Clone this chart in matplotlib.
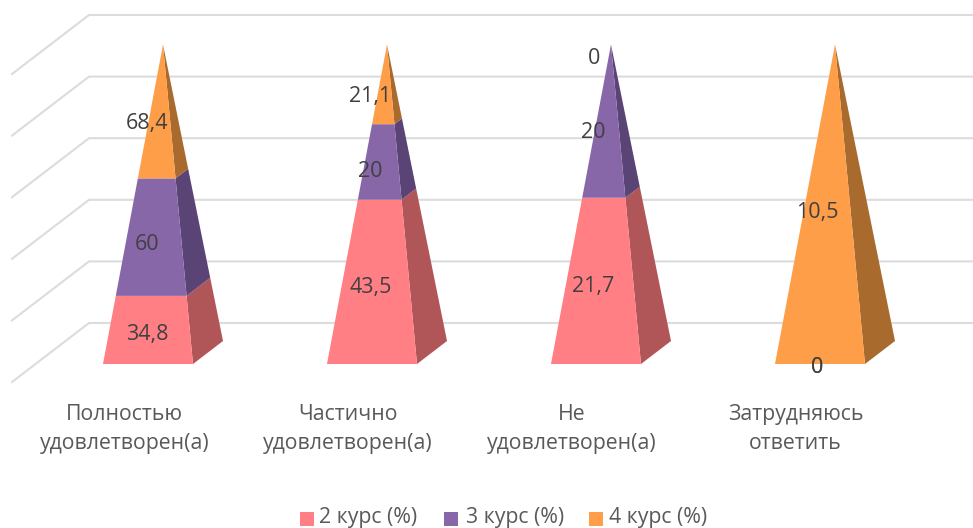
import matplotlib
matplotlib.use("Agg")
import matplotlib.pyplot as plt
from matplotlib.patches import Polygon, Rectangle

plt.rcParams['font.family'] = ['Open Sans', 'DejaVu Sans']

categories = [["Полностью", "удовлетворен(а)"], ["Частично", "удовлетворен(а)"], ["Не", "удовлетворен(а)"], ["Затрудняюсь", "ответить"]]
series_names = ["2 курс (%)", "3 курс (%)", "4 курс (%)"]
course2 = [34.8, 43.5, 21.7, 0]
course3 = [60, 20, 20, 0]
course4 = [68.4, 21.1, 0, 10.5]
series = [course2, course3, course4]
labels2 = ["34,8", "43,5", "21,7", "0"]
labels3 = ["60", "20", "20", "0"]
labels4 = ["68,4", "21,1", "0", "10,5"]
series_labels = [labels2, labels3, labels4]
front_colors = ["#FF7F85", "#8767A8", "#FF9E48"]
side_colors = ["#B05659", "#5A4375", "#A96A2E"]
grid_ticks = [0, 20, 40, 60, 80, 100]

W, H = 973, 528
fig = plt.figure(figsize=(W / 100, H / 100), dpi=100)
ax = fig.add_axes([0, 0, 1, 1])
ax.set_xlim(0, W)
ax.set_ylim(H, 0)
ax.axis("off")

def proj(u, pct, d):
    """Oblique projection: u along the floor, pct up the wall, d into the depth."""
    return 12 + 77 * d + u, 382 - 59 * d - 3.08 * pct

GRID = "#DCDCDC"
for t in grid_ticks:
    p0, p1, p2 = proj(0, t, 0), proj(0, t, 1), proj(884, t, 1)
    ax.plot([p0[0], p1[0], p2[0]], [p0[1], p1[1], p2[1]], color=GRID, lw=1.5, zorder=1,
            solid_joinstyle="miter")

STEP = 224
HALF = 45
def corner(cat, side, dz, frac):
    """Point on a pyramid edge; frac=0 base, frac=1 apex (100 %)."""
    cu = 112.5 + STEP * cat
    bx, by = proj(cu + side * HALF, 0, 0.5 + dz)
    ax_, ay_ = proj(cu, 100, 0.5)
    return bx + (ax_ - bx) * frac, by + (ay_ - by) * frac

for c in range(len(categories)):
    total = sum(s[c] for s in series)
    cum = 0.0
    for i, s in enumerate(series):
        f0 = cum / total
        cum += s[c]
        f1 = cum / total
        mid = (f0 + f1) / 2
        _, ly = corner(c, 0, -0.195, mid)
        ly = ly + 3 + 11 * mid
        lx = 147 + (STEP - 0.7) * c
        if f1 > f0:
            front = [corner(c, -1, -0.195, f0), corner(c, 1, -0.195, f0),
                     corner(c, 1, -0.195, f1), corner(c, -1, -0.195, f1)]
            sidep = [corner(c, 1, -0.195, f0), corner(c, 1, 0.195, f0),
                     corner(c, 1, 0.195, f1), corner(c, 1, -0.195, f1)]
            ax.add_patch(Polygon(sidep, closed=True, fc=side_colors[i], ec="none", zorder=3))
            ax.add_patch(Polygon(front, closed=True, fc=front_colors[i], ec="none", zorder=3))
        ax.text(lx, ly, series_labels[i][c], ha="center", va="center", fontsize=15.5,
                color="#404040", zorder=5)
    for k, line in enumerate(categories[c]):
        ax.text(124.5 + (STEP - 0.3) * c, 414.5 + 29 * k, line, ha="center", va="center", fontsize=15.3,
                color="#595959", zorder=5)

swatch_x = [300, 444, 589]
text_x = [319, 465.5, 609]
for x, tx, name, col in zip(swatch_x, text_x, series_names, front_colors):
    ax.add_patch(Rectangle((x, 512), 14, 14, fc=col, ec="none", zorder=5))
    ax.text(tx, 522.5, name, ha="left", va="baseline", fontsize=15.3, color="#595959", zorder=5)

fig.savefig("out.png", dpi=100, facecolor="white")
